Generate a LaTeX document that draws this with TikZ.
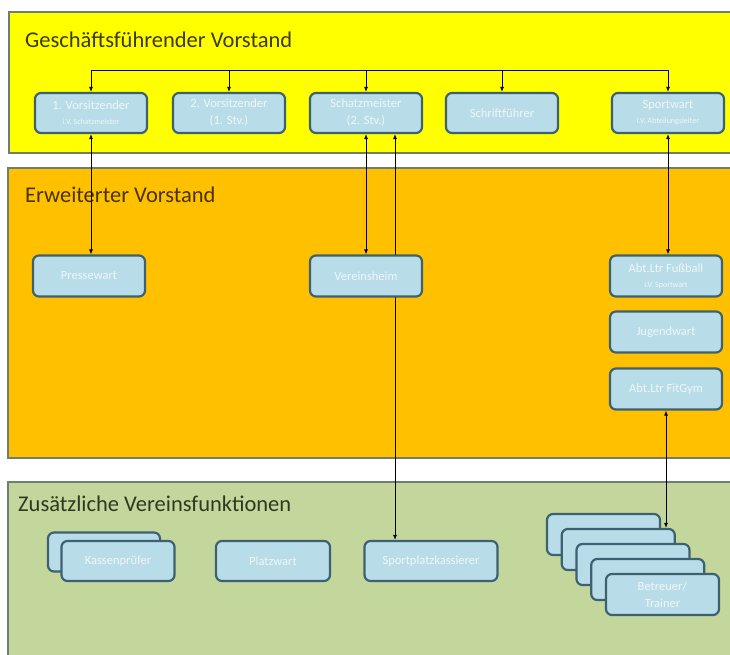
\documentclass[tikz,border=0pt]{standalone}
\usepackage{fontspec}
\setmainfont{Carlito}
\usetikzlibrary{arrows.meta}
\pgfdeclarelayer{back}
\pgfdeclarelayer{mid}
\pgfsetlayers{back,mid,main}
\definecolor{bandline}{HTML}{6E7F72}
\definecolor{yel}{HTML}{FFFF00}
\definecolor{ora}{HTML}{FFC000}
\definecolor{grn}{HTML}{C3D69B}
\definecolor{boxfill}{HTML}{B9DDE8}
\definecolor{boxline}{HTML}{3D6170}
\definecolor{boxtext}{HTML}{EEF6F8}
\definecolor{tyel}{HTML}{3B3B14}
\definecolor{tora}{HTML}{4A3200}
\definecolor{tgrn}{HTML}{2C3A22}
\tikzset{
  band/.style={draw=bandline, line width=2pt},
  role/.style={draw=boxline, fill=boxfill, line width=2.2pt, rounded corners=6pt,
    minimum width=112pt, minimum height=40pt, inner sep=0pt, align=center,
    text=boxtext, font=\fontsize{12.5}{17}\selectfont},
  bandtitle/.style={anchor=base west, inner sep=0pt, font=\fontsize{22.5}{24}\selectfont},
  conn/.style={draw=black, line width=0.8pt, {Latex[length=5pt,width=4pt]}-{Latex[length=5pt,width=4pt]}},
  bus/.style={draw=black, line width=0.8pt},
  drop/.style={draw=black, line width=0.8pt, -{Latex[length=5pt,width=4pt]}}
}
\newcommand{\subtxt}[1]{{\fontsize{8}{9}\selectfont #1}}
\begin{document}
\begin{tikzpicture}[x=1pt, y=-1pt]
\begin{pgfonlayer}{back}
\useasboundingbox[fill=white] (0,0) rectangle (730,655);
% bands
\draw[band, fill=yel] (9,12) rectangle (745,153);
\draw[band, fill=ora] (8,168) rectangle (745,458);
\draw[band, fill=grn] (8,482) rectangle (745,670);
\end{pgfonlayer}
\node[bandtitle, text=tyel] (t1) at (25,48) {Geschäftsführender Vorstand};
\node[bandtitle, text=tora] (t2) at (25,202) {Erweiterter Vorstand};
\node[bandtitle, text=tgrn] (t3) at (18,511) {Zusätzliche Vereinsfunktionen};
% top row
\node[role] (v1) at (91,113) {1. Vorsitzender\\[-2pt]\subtxt{i.V. Schatzmeister}};
\node[role] (v2) at (229,113) {2. Vorsitzender\\(1. Stv.)};
\node[role] (sm) at (366,113) {Schatzmeister\\(2. Stv.)};
\node[role] (sf) at (502,113) {Schriftführer};
\node[role] (sw) at (668,113) {Sportwart\\[-2pt]\subtxt{i.V. Abteilungsleiter}};
% middle
\node[role, minimum height=41pt] (pw) at (89,276) {Pressewart};
\node[role, minimum height=41pt] (vh) at (366,276) {Vereinsheim};
\node[role, minimum height=41pt] (fb) at (666,276) {Abt.Ltr Fußball\\[-2pt]\subtxt{i.V. Sportwart}};
\node[role, minimum height=41pt] (jw) at (666,332) {Jugendwart};
\node[role, minimum height=41pt] (fg) at (666,389) {Abt.Ltr FitGym};
% bottom
\node[role, minimum height=39pt] (kpb) at (104,552) {};
\node[role, minimum width=113pt] (kp) at (118,561) {Kassenprüfer};
\node[role, minimum width=114pt] (plw) at (273,561) {Platzwart};
\node[role, minimum width=133pt] (spk) at (431,561) {Sportplatzkassierer};
\node[role, minimum width=113pt, minimum height=41pt] (b0) at (603.5,534.5) {};
\node[role, minimum width=113pt, minimum height=41pt] (b1) at (618.25,549.5) {};
\node[role, minimum width=113pt, minimum height=41pt] (b2) at (633,564.5) {};
\node[role, minimum width=113pt, minimum height=41pt] (b3) at (647.75,579.5) {};
\node[role, minimum width=113pt, minimum height=41pt] (b4) at (662.5,594.5) {Betreuer/\\Trainer};
% bus
\coordinate (busy) at (0,70);
\draw[bus] (v1.north |- busy) -- (sw.north |- busy);
\foreach \n in {v1,v2,sm,sf,sw} \draw[drop] (\n.north |- busy) -- (\n.north);
% connectors
\draw[conn] (v1.south) -- (v1.south |- pw.north);
\draw[conn] (sm.south) -- (vh.north);
\begin{pgfonlayer}{mid}
\draw[conn] ([xshift=29pt]sm.south) -- ([xshift=29pt]sm.south |- spk.north);
\end{pgfonlayer}
\draw[conn] (sw.south) -- (sw.south |- fb.north);
\draw[conn] (fg.south) -- (fg.south |- b1.north);
\end{tikzpicture}
\end{document}
